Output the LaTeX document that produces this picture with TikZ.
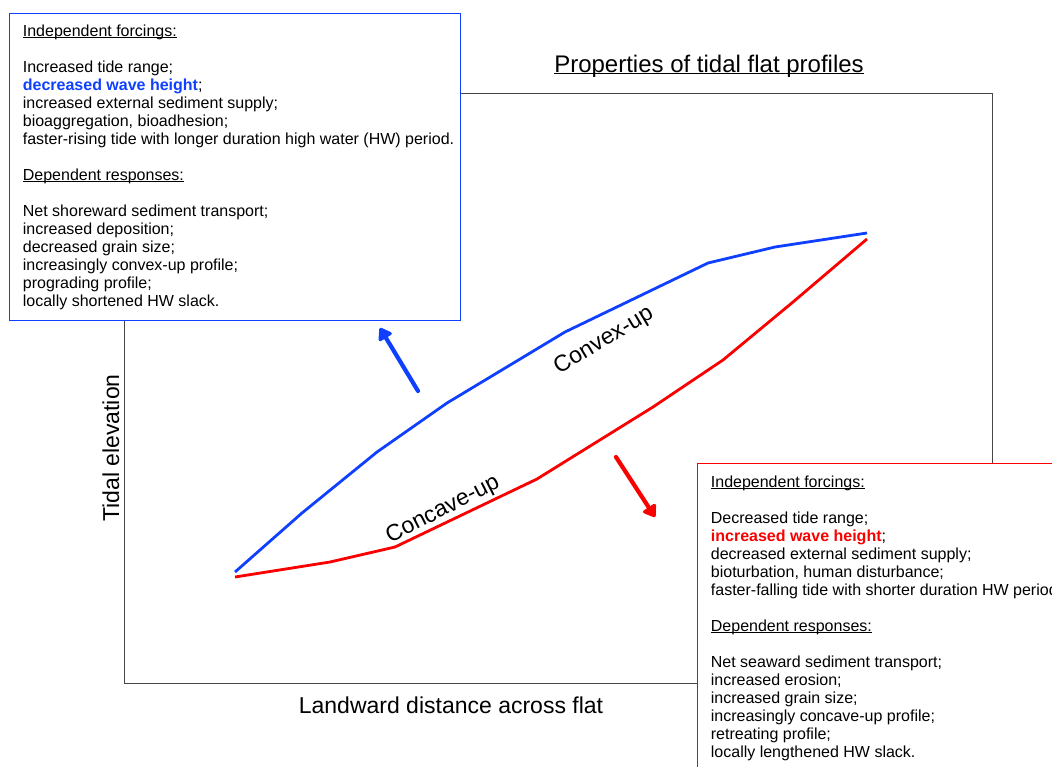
\documentclass[tikz,border=0pt]{standalone}
\usepackage{fontspec}
\setmainfont{Liberation Sans}
\usepackage{tikz}
\usetikzlibrary{arrows.meta, positioning}

\definecolor{profblue}{RGB}{16,64,255}
\definecolor{profred}{RGB}{250,0,0}
\definecolor{framegray}{RGB}{70,70,70}
\newsavebox{\ulinebox}
\newcommand{\undertext}[1]{\sbox{\ulinebox}{#1}\rlap{\rule[-1.8pt]{\wd\ulinebox}{0.8pt}}\usebox{\ulinebox}}

\begin{document}
\begin{tikzpicture}[
  x=1pt, y=-1pt,
  frame/.style={draw=framegray, line width=0.8pt, minimum width=868pt, minimum height=590pt, inner sep=0pt, anchor=north west},
  forcebox/.style={draw, fill=white, line width=0.8pt, inner sep=0pt, anchor=north west},
  boxtext/.style={align=left, inner sep=0pt, anchor=north west, font=\fontsize{16}{18}\selectfont},
  biglabel/.style={font=\fontsize{23}{27}\selectfont, inner sep=0pt},
  profile/.style={line width=2.8pt, line join=round},
  trendarr/.style={-{Triangle[length=13pt,width=17pt,round]}, line width=4.2pt, line cap=round, line join=round}
]
\path[use as bounding box, clip] (0,0) rectangle (1052,766);

% Plot frame and axis labels
\node[frame] (plot) at (124,93) {};
\node[biglabel, anchor=base, font=\fontsize{24}{28}\selectfont] (title) at (709,72) {\undertext{Properties of tidal flat profiles}};
\node[biglabel, anchor=base, rotate=90] (ylbl) at (119,448) {Tidal elevation};
\node[biglabel, anchor=base] (xlbl) at (451,713) {Landward distance across flat};

% Profiles
\draw[profile, profblue] (235,572) -- (302,513) -- (377,452) -- (447,403) -- (565,332) -- (708,263) -- (775,247) -- (867,233);
\draw[profile, profred] (235,577) -- (330,562) -- (395,547) -- (537,479) -- (653,407) -- (723,360) -- (793,302) -- (867,239);
\node[biglabel, rotate=31] (convexlbl) at (604,341) {Convex-up};
\node[biglabel, rotate=27] (concavelbl) at (443,510) {Concave-up};

% Trend arrows
\coordinate (blueTail) at (418,391);
\coordinate (blueTip) at (380,328);
\coordinate (redTail) at (616,457);
\coordinate (redTip) at (655,517);
\draw[trendarr, profblue] (blueTail) -- (blueTip);
\draw[trendarr, profred] (redTail) -- (redTip);

% Convex-up box
\node[forcebox, draw=profblue, minimum width=451pt, minimum height=307.5pt] (convexbox) at (9.3,12.7) {};
\node[boxtext] (convextext) at ([xshift=13.4pt, yshift=-11.8pt]convexbox.north west) {
  \undertext{Independent forcings:}\\[18pt]
  Increased tide range;\\
  \textcolor{profblue}{\textbf{decreased wave height}};\\
  increased external sediment supply;\\
  bioaggregation, bioadhesion;\\
  faster-rising tide with longer duration high water (HW) period.\\[18pt]
  \undertext{Dependent responses:}\\[18pt]
  Net shoreward sediment transport;\\
  increased deposition;\\
  decreased grain size;\\
  increasingly convex-up profile;\\
  prograding profile;\\
  locally shortened HW slack.
};

% Concave-up box
\node[forcebox, draw=profred, minimum width=420pt, minimum height=340pt] (concavebox) at (697.3,463.3) {};
\node[boxtext] (concavetext) at ([xshift=13.4pt, yshift=-11.9pt]concavebox.north west) {
  \undertext{Independent forcings:}\\[18pt]
  Decreased tide range;\\
  \textcolor{profred}{\textbf{increased wave height}};\\
  decreased external sediment supply;\\
  bioturbation, human disturbance;\\
  faster-falling tide with shorter duration HW period.\\[18pt]
  \undertext{Dependent responses:}\\[18pt]
  Net seaward sediment transport;\\
  increased erosion;\\
  increased grain size;\\
  increasingly concave-up profile;\\
  retreating profile;\\
  locally lengthened HW slack.
};

\end{tikzpicture}
\end{document}
